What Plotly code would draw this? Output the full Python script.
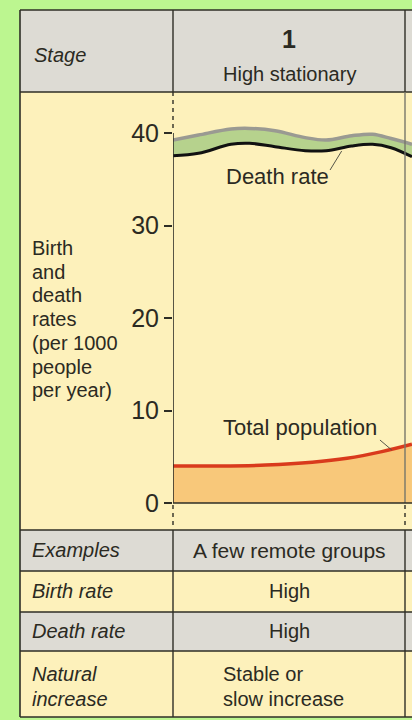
import plotly.graph_objects as go

# stage 1 chart data (x = fraction of the stage column)
stage_x = [0.0, 0.11, 0.25, 0.33, 0.44, 0.57, 0.66, 0.77, 0.86, 0.94, 1.03]
birth_rate = [39.24, 39.78, 40.43, 40.5, 40.25, 39.5, 39.24, 39.7, 39.86, 39.4, 38.78]
death_rate = [37.55, 37.8, 38.78, 38.89, 38.52, 38.09, 38.09, 38.6, 38.78, 38.41, 37.43]

pop_x = [0.0, 0.2, 0.4, 0.6, 0.75, 0.9, 1.03]
total_population = [4.0, 4.0, 4.1, 4.4, 4.83, 5.55, 6.35]

y_ticks = [0, 10, 20, 30, 40]
y_title = ["Birth", "and", "death", "rates", "(per 1000", "people", "per year)"]

row_labels = ["Examples", "Birth rate", "Death rate", "Natural<br>increase"]
row_values = ["A few remote groups", "High", "High", "Stable or<br>slow increase"]

W, H = 412, 720
FONT = "Liberation Sans"
INK = "#2b2a22"
GREEN_BG = "#bcf690"
GREY = "#dddbd4"
YELLOW = "#fdf1bb"


def px(x):
    return x / W


def py(y):
    return 1 - y / H


fig = go.Figure()

fig.add_trace(go.Scatter(x=pop_x, y=total_population, mode="lines", line_shape="spline",
                         line=dict(color="#d93a1c", width=3.5),
                         fill="tozeroy", fillcolor="#f8c87a", showlegend=False))
fig.add_trace(go.Scatter(x=stage_x, y=death_rate, mode="lines", line_shape="spline",
                         line=dict(color="#111111", width=3), showlegend=False))
fig.add_trace(go.Scatter(x=stage_x, y=birth_rate, mode="lines", line_shape="spline",
                         line=dict(color="#9a9a92", width=3.5),
                         fill="tonexty", fillcolor="#b6d28d", showlegend=False))

shapes = []
# cell backgrounds
rows = [(10, 92, GREY), (92, 530, YELLOW), (530, 571, GREY), (571, 612, YELLOW),
        (612, 651, GREY), (651, 717, YELLOW)]
for y0, y1, c in rows:
    shapes.append(dict(type="rect", xref="paper", yref="paper", x0=px(20), x1=1,
                       y0=py(y1), y1=py(y0), fillcolor=c, line_width=0, layer="below"))

line_c = "#2e2e26"
for y in [10, 92, 530, 571, 612, 651, 717]:
    shapes.append(dict(type="line", xref="paper", yref="paper", x0=px(20), x1=1,
                       y0=py(y), y1=py(y), line=dict(color=line_c, width=1.6)))
shapes.append(dict(type="line", xref="paper", yref="paper", x0=px(20), x1=px(20),
                   y0=py(10), y1=py(717), line=dict(color=line_c, width=1.6)))
for x in [173, 405]:
    for y0, y1 in [(10, 92), (530, 717)]:
        shapes.append(dict(type="line", xref="paper", yref="paper", x0=px(x), x1=px(x),
                           y0=py(y0), y1=py(y1), line=dict(color=line_c, width=1.4)))
# chart row verticals
shapes.append(dict(type="line", xref="paper", yref="paper", x0=px(173), x1=px(173),
                   y0=py(92), y1=py(132), line=dict(color=line_c, width=1.4, dash="4px,4px")))
shapes.append(dict(type="line", xref="x", yref="y", x0=0, x1=0, y0=0, y1=40,
                   line=dict(color=line_c, width=1.6)))
shapes.append(dict(type="line", xref="paper", yref="paper", x0=px(405), x1=px(405),
                   y0=py(92), y1=py(503), line=dict(color="#77776a", width=1.4)))
for x in [173, 405]:
    shapes.append(dict(type="line", xref="paper", yref="paper", x0=px(x), x1=px(x),
                       y0=py(505), y1=py(529), line=dict(color=line_c, width=1.4, dash="4px,4px")))
# baseline
shapes.append(dict(type="line", xref="x", yref="y", x0=0, x1=1.04, y0=0, y1=0,
                   line=dict(color=line_c, width=1.6)))
# leader lines
shapes.append(dict(type="line", xref="x", yref="y", x0=0.677, x1=0.727, y0=36.0, y1=38.05,
                   line=dict(color="#555548", width=1)))
shapes.append(dict(type="line", xref="x", yref="y", x0=0.892, x1=0.943, y0=6.81, y1=5.73,
                   line=dict(color="#555548", width=1)))

ann = []


def text(x, y, s, size=20, xanchor="left", italic=False, bold=False):
    if italic:
        s = "<i>" + s + "</i>"
    if bold:
        s = "<b>" + s + "</b>"
    ann.append(dict(x=px(x), y=py(y), xref="paper", yref="paper", text=s, showarrow=False,
                    xanchor=xanchor, yanchor="middle", align=xanchor if xanchor != "center" else "center",
                    font=dict(family=FONT, size=size, color=INK), xshift=-2 if xanchor == "left" else 0))


text(34, 55, "Stage", size=20, italic=True)
text(289, 39, "1", size=25, xanchor="center", bold=True)
text(289, 74, "High stationary", size=20, xanchor="center")
for i, line in enumerate(y_title):
    text(32, 248 + i * 23.7, line, size=20)

row_y = [550, 591, 631]
for lab, val, y in zip(row_labels[:3], row_values[:3], row_y):
    text(32, y, lab, size=20, italic=True)
    text(289, y, val, size=21 if y == 550 else 20, xanchor="center")
for i, (a, b) in enumerate(zip(row_labels[3].split("<br>"), row_values[3].split("<br>"))):
    text(32, 674 + i * 25, a, size=20, italic=True)
    text(223, 674 + i * 25, b, size=20)

ann.append(dict(x=0.45, y=35.3, xref="x", yref="y", text="Death rate", showarrow=False,
                font=dict(family=FONT, size=22, color=INK)))
ann.append(dict(x=0.547, y=8.2, xref="x", yref="y", text="Total population", showarrow=False,
                font=dict(family=FONT, size=22, color=INK)))

fig.update_layout(
    width=W, height=H,
    margin=dict(l=0, r=0, t=0, b=0),
    paper_bgcolor=GREEN_BG,
    plot_bgcolor="rgba(0,0,0,0)",
    shapes=shapes,
    annotations=ann,
    xaxis=dict(domain=[px(173), 1], range=[0, (W - 173) / 232], visible=False, fixedrange=True),
    yaxis=dict(domain=[py(530), py(92)], range=[-27 / 9.25, 411 / 9.25],
               tickvals=y_ticks, ticks="outside", ticklen=8, tickwidth=1.6, tickcolor=line_c,
               showgrid=False, zeroline=False, showline=False,
               tickfont=dict(family=FONT, size=25, color=INK), fixedrange=True),
)

fig.write_html("out.html", config={"displayModeBar": False},
               post_script="document.body.style.margin='0';")
